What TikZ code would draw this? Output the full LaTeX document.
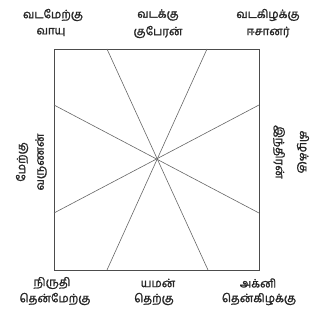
\documentclass[tikz,border=0pt]{standalone}
\usepackage{fontspec}
\newfontfamily\tamil[Script=Tamil, FakeBold=1.6]{Hind Madurai}
\usepackage{tikz}

\begin{document}
\begin{tikzpicture}[
  x=1pt, y=1pt,
  lbl/.style={font=\tamil\fontsize{11.5}{12}\selectfont, inner sep=0pt, text=black!85},
  wall/.style={draw=black!70, line width=0.9pt},
  ray/.style={draw=black!60, line width=0.6pt}
]
\useasboundingbox (0,0) rectangle (325,322);
% plot outline
\coordinate (sw) at (54,52);
\coordinate (ne) at (259,273);
\draw[wall] (sw) rectangle (ne);
% points where the rays meet the walls
\coordinate (t1) at (107,273);
\coordinate (t2) at (207,273);
\coordinate (b1) at (107,52);
\coordinate (b2) at (208,52);
\coordinate (l1) at (54,217);
\coordinate (l2) at (54,109);
\coordinate (r1) at (259,217);
\coordinate (r2) at (259,109);
\draw[ray] (t1) -- (b2);
\draw[ray] (t2) -- (b1);
\draw[ray] (l1) -- (r2);
\draw[ray] (l2) -- (r1);
% top labels
\node[lbl] (nw1) at (53,307) {வடமேற்கு};
\node[lbl] (nw2) at (51,290) {வாயு};
\node[lbl] (n1) at (158,307) {வடக்கு};
\node[lbl] (n2) at (158,290) {குபேரன்};
\node[lbl] (ne1) at (268,307) {வடகிழக்கு};
\node[lbl] (ne2) at (268,290) {ஈசானர்};
% bottom labels
\node[lbl] (sw1) at (52,39) {நிருதி};
\node[lbl] (sw2) at (55,23) {தென்மேற்கு};
\node[lbl] (s1) at (158,39) {யமன்};
\node[lbl] (s2) at (154,23) {தெற்கு};
\node[lbl] (se1) at (258,39) {அக்னி};
\node[lbl] (se2) at (259,23) {தென்கிழக்கு};
% side labels
\node[lbl, rotate=90] (w1) at (22,160) {மேற்கு};
\node[lbl, rotate=90] (w2) at (41,160) {வருணன்};
\node[lbl, rotate=-90] (e1) at (303,170) {கிழக்கு};
\node[lbl, rotate=-90] (e2) at (279,170) {இந்திரன்};
\end{tikzpicture}
\end{document}
